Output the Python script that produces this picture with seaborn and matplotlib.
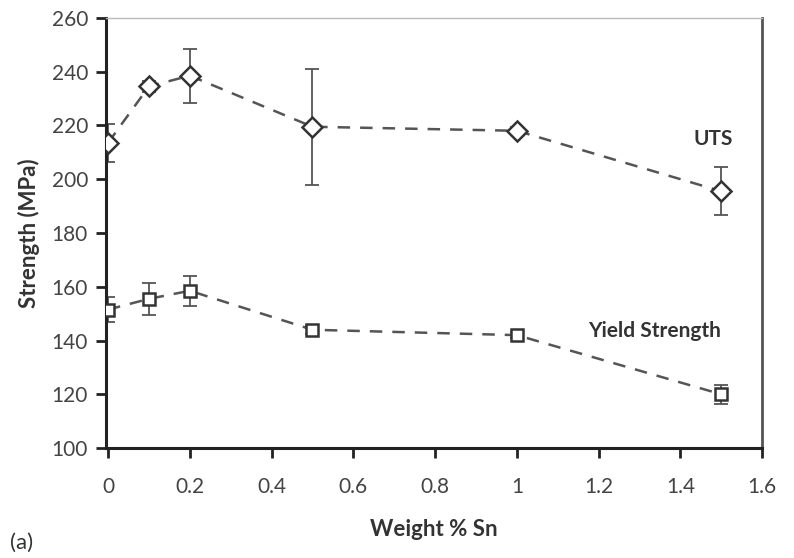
import matplotlib
matplotlib.use("Agg")
import matplotlib.pyplot as plt
import seaborn as sns
import pandas as pd

weight_sn = [0, 0.1, 0.2, 0.5, 1.0, 1.5]
uts = [213.5, 234.5, 238.5, 219.5, 218.0, 195.5]
uts_err = [7.0, 2.0, 10.0, 21.5, 1.5, 9.0]
ys = [151.5, 155.5, 158.5, 144.0, 142.0, 120.0]
ys_err = [4.5, 6.0, 5.5, 1.5, 1.0, 3.5]

sns.set_style("white")
plt.rcParams['font.family'] = ['Lato', 'DejaVu Sans']

fig = plt.figure(figsize=(7.94, 5.58), dpi=100)
ax = fig.add_axes([0.1335, 0.197, 0.8265, 0.771])

for name, vals, errs, mk, ms in [("UTS", uts, uts_err, "D", 10), ("Yield Strength", ys, ys_err, "s", 9)]:
    ax.errorbar(weight_sn, vals, yerr=errs, fmt="none", ecolor="#555555",
                elinewidth=1.3, capsize=5, capthick=1.3, zorder=2)
    sns.lineplot(x=weight_sn, y=vals, ax=ax, color="#555555", linestyle=(0, (5, 4)),
                 linewidth=1.8, marker=mk, markersize=ms,
                 markerfacecolor="white", markeredgecolor="#333333",
                 markeredgewidth=1.8, zorder=3)

ax.set_xlim(-0.005, 1.6)
ax.set_ylim(100, 260)
ax.set_xticks([0, 0.2, 0.4, 0.6, 0.8, 1.0, 1.2, 1.4, 1.6])
ax.set_xticklabels(["0", "0.2", "0.4", "0.6", "0.8", "1", "1.2", "1.4", "1.6"])
ax.set_yticks(range(100, 261, 20))
ax.tick_params(axis="both", which="major", direction="out", length=7, width=2,
               color="#222222", labelsize=15, labelcolor="#444444", pad=6,
               bottom=True, left=True)
ax.tick_params(axis="x", pad=14)

for side in ["left", "bottom"]:
    ax.spines[side].set_linewidth(2.2)
    ax.spines[side].set_color("#222222")
ax.spines["right"].set_linewidth(2.0)
ax.spines["right"].set_color("#555555")
ax.spines["top"].set_linewidth(1.0)
ax.spines["top"].set_color("#bbbbbb")

ax.set_ylabel("Strength (MPa)", fontsize=16, fontweight="bold", color="#333333", labelpad=8)
ax.set_xlabel("Weight % Sn", fontsize=16, fontweight="bold", color="#333333", labelpad=16)

ax.text(1.48, 215.0, "UTS", fontsize=15, fontweight="bold", color="#333333", ha="center", va="center")
ax.text(1.337, 143.5, "Yield Strength", fontsize=15, fontweight="bold", color="#333333", ha="center", va="center")

fig.text(0.013, 0.01, "(a)", fontsize=16, color="#333333", ha="left", va="bottom")

fig.savefig("out.png", dpi=100, facecolor="white")
